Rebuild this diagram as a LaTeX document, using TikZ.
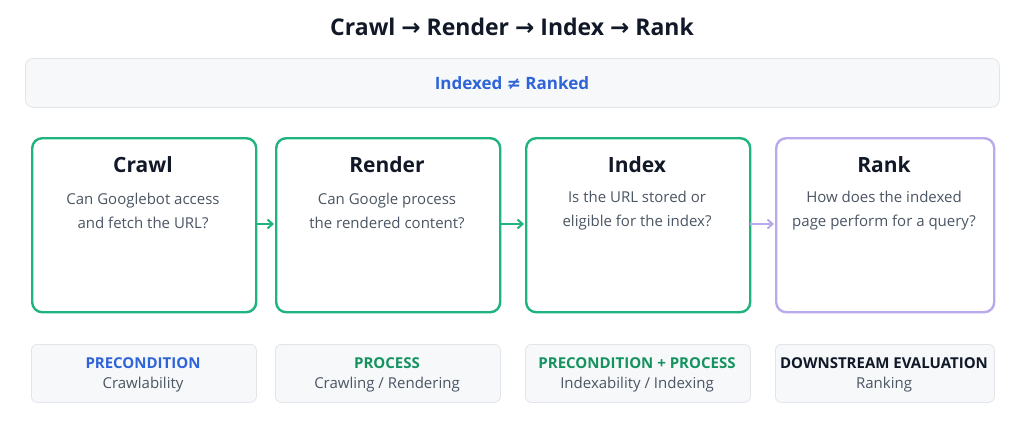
\documentclass[tikz,border=0pt]{standalone}
\usepackage{fontspec}
\setmainfont{Open Sans}
\newfontfamily\symfnt{DejaVu Sans}
\usetikzlibrary{arrows.meta}
\definecolor{navy}{HTML}{111827}
\definecolor{blu}{HTML}{2F64D8}
\definecolor{grn}{HTML}{1FB37E}
\definecolor{grnt}{HTML}{14935F}
\definecolor{lav}{HTML}{BBA9EE}
\definecolor{txt}{HTML}{4B5563}
\definecolor{pale}{HTML}{F6F8FA}
\definecolor{edge}{HTML}{E1E5EA}
\begin{document}
\begin{tikzpicture}[x=1pt,y=-1pt,
  stage/.style={draw=grn,line width=2.4pt,rounded corners=10pt,minimum width=224pt,minimum height=174pt,anchor=north west},
  note/.style={draw=edge,fill=pale,line width=0.8pt,rounded corners=6pt,minimum width=225pt,minimum height=58pt,anchor=north west},
  head/.style={font=\bfseries\fontsize{21}{25}\selectfont,text=navy},
  body/.style={font=\fontsize{15}{24}\selectfont,text=txt,align=center},
  lab/.style={font=\bfseries\fontsize{15}{18}\selectfont},
  sub/.style={font=\fontsize{15}{18}\selectfont,text=txt},
  arr/.style={line width=2pt,-{Straight Barb[length=5pt,width=9pt]}}]
\useasboundingbox[fill=white] (0,0) rectangle (1024,439);
\node[font=\bfseries\fontsize{23}{27}\selectfont,text=navy] (title) at (512,27) {Crawl {\symfnt →} Render {\symfnt →} Index {\symfnt →} Rank};
\node[draw=edge,fill=pale,line width=0.8pt,rounded corners=8pt,minimum width=974pt,minimum height=49pt,anchor=north west] (ban) at (25,58) {};
\node[font=\bfseries\fontsize{17}{20}\selectfont,text=blu] (bant) at (512,83) {Indexed {\symfnt ≠} Ranked};
\node[stage] (s1) at (31,137) {};
\node[stage] (s2) at (275,137) {};
\node[stage] (s3) at (525,137) {};
\node[stage,draw=lav,minimum width=218pt] (s4) at (775,137) {};
\node[head] (h1) at (143,165) {Crawl};
\node[head] (h2) at (387,165) {Render};
\node[head] (h3) at (637,165) {Index};
\node[head] (h4) at (884,165) {Rank};
\node[body] (b1) at (143,211) {Can Googlebot access\\and fetch the URL?};
\node[body] (b2) at (387,211) {Can Google process\\the rendered content?};
\node[body] (b3) at (637,211) {Is the URL stored or\\eligible for the index?};
\node[body] (b4) at (884,211) {How does the indexed\\page perform for a query?};
\coordinate (a1) at (256,224); \coordinate (a2) at (274,224);
\coordinate (a3) at (500,224); \coordinate (a4) at (524,224);
\coordinate (a5) at (750,224); \coordinate (a6) at (774,224);
\draw[arr,grn] (a1) -- (a2);
\draw[arr,grn] (a3) -- (a4);
\draw[arr,lav] (a5) -- (a6);
\node[note] (n1) at (31,344) {};
\node[note] (n2) at (275,344) {};
\node[note] (n3) at (525,344) {};
\node[note,minimum width=219pt] (n4) at (775,344) {};
\node[lab,text=blu] (l1) at (143,363) {PRECONDITION};
\node[lab,text=grnt] (l2) at (387,363) {PROCESS};
\node[lab,text=grnt] (l3) at (637,363) {PRECONDITION + PROCESS};
\node[lab,text=navy] (l4) at (884,363) {DOWNSTREAM EVALUATION};
\node[sub] (t1) at (143,385) {Crawlability};
\node[sub] (t2) at (387,385) {Crawling / Rendering};
\node[sub] (t3) at (637,385) {Indexability / Indexing};
\node[sub] (t4) at (884,385) {Ranking};
\end{tikzpicture}
\end{document}
